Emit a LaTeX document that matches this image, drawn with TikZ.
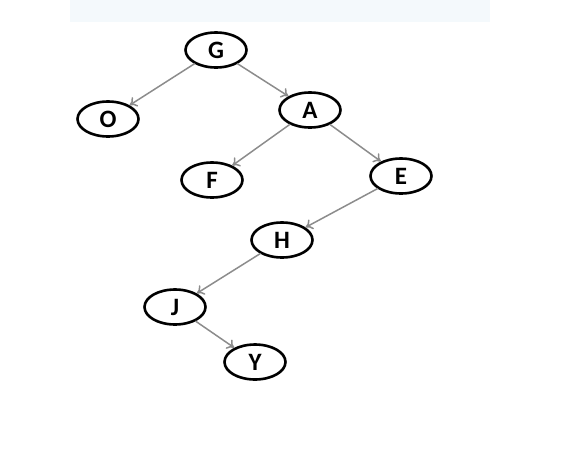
\documentclass[tikz,border=0pt]{standalone}
\usepackage{fontspec}
\setmainfont{Carlito}
\usetikzlibrary{shapes.geometric,arrows.meta}
\definecolor{bandblue}{HTML}{F4F9FC}
\definecolor{edgegray}{HTML}{8C8C8C}
\tikzset{
  vertex/.style={ellipse, draw=black, line width=2.6pt, minimum width=61pt, minimum height=35pt, inner sep=0pt, font=\fontsize{25}{25}\selectfont\bfseries},
  edge/.style={draw=edgegray, line width=1.5pt, -{To[length=7pt,width=11pt]}}
}
\begin{document}
\begin{tikzpicture}[line cap=round, line join=round, x=1pt, y=1pt]

                \useasboundingbox (0,0) rectangle (561,-463);
                \fill[bandblue] (70,0) rectangle (490,-22);

                \node[vertex] (g) at (216,-50) {G};
                \node[vertex] (o) at (108,-119) {O};
                \node[vertex] (a) at (310,-110) {A};
                \node[vertex] (f) at (212,-180) {F};
                \node[vertex] (e) at (401,-176) {E};
                \node[vertex] (h) at (282,-240) {H};
                \node[vertex] (j) at (175,-307) {J};
                \node[vertex] (y) at (255,-362) {Y};

                \draw[edge] (g) -- (o);
                \draw[edge] (g) -- (a);
                \draw[edge] (a) -- (f);
                \draw[edge] (a) -- (e);
                \draw[edge] (e) -- (h);
                \draw[edge] (h) -- (j);
                \draw[edge] (j) -- (y);

            \end{tikzpicture}
\end{document}
